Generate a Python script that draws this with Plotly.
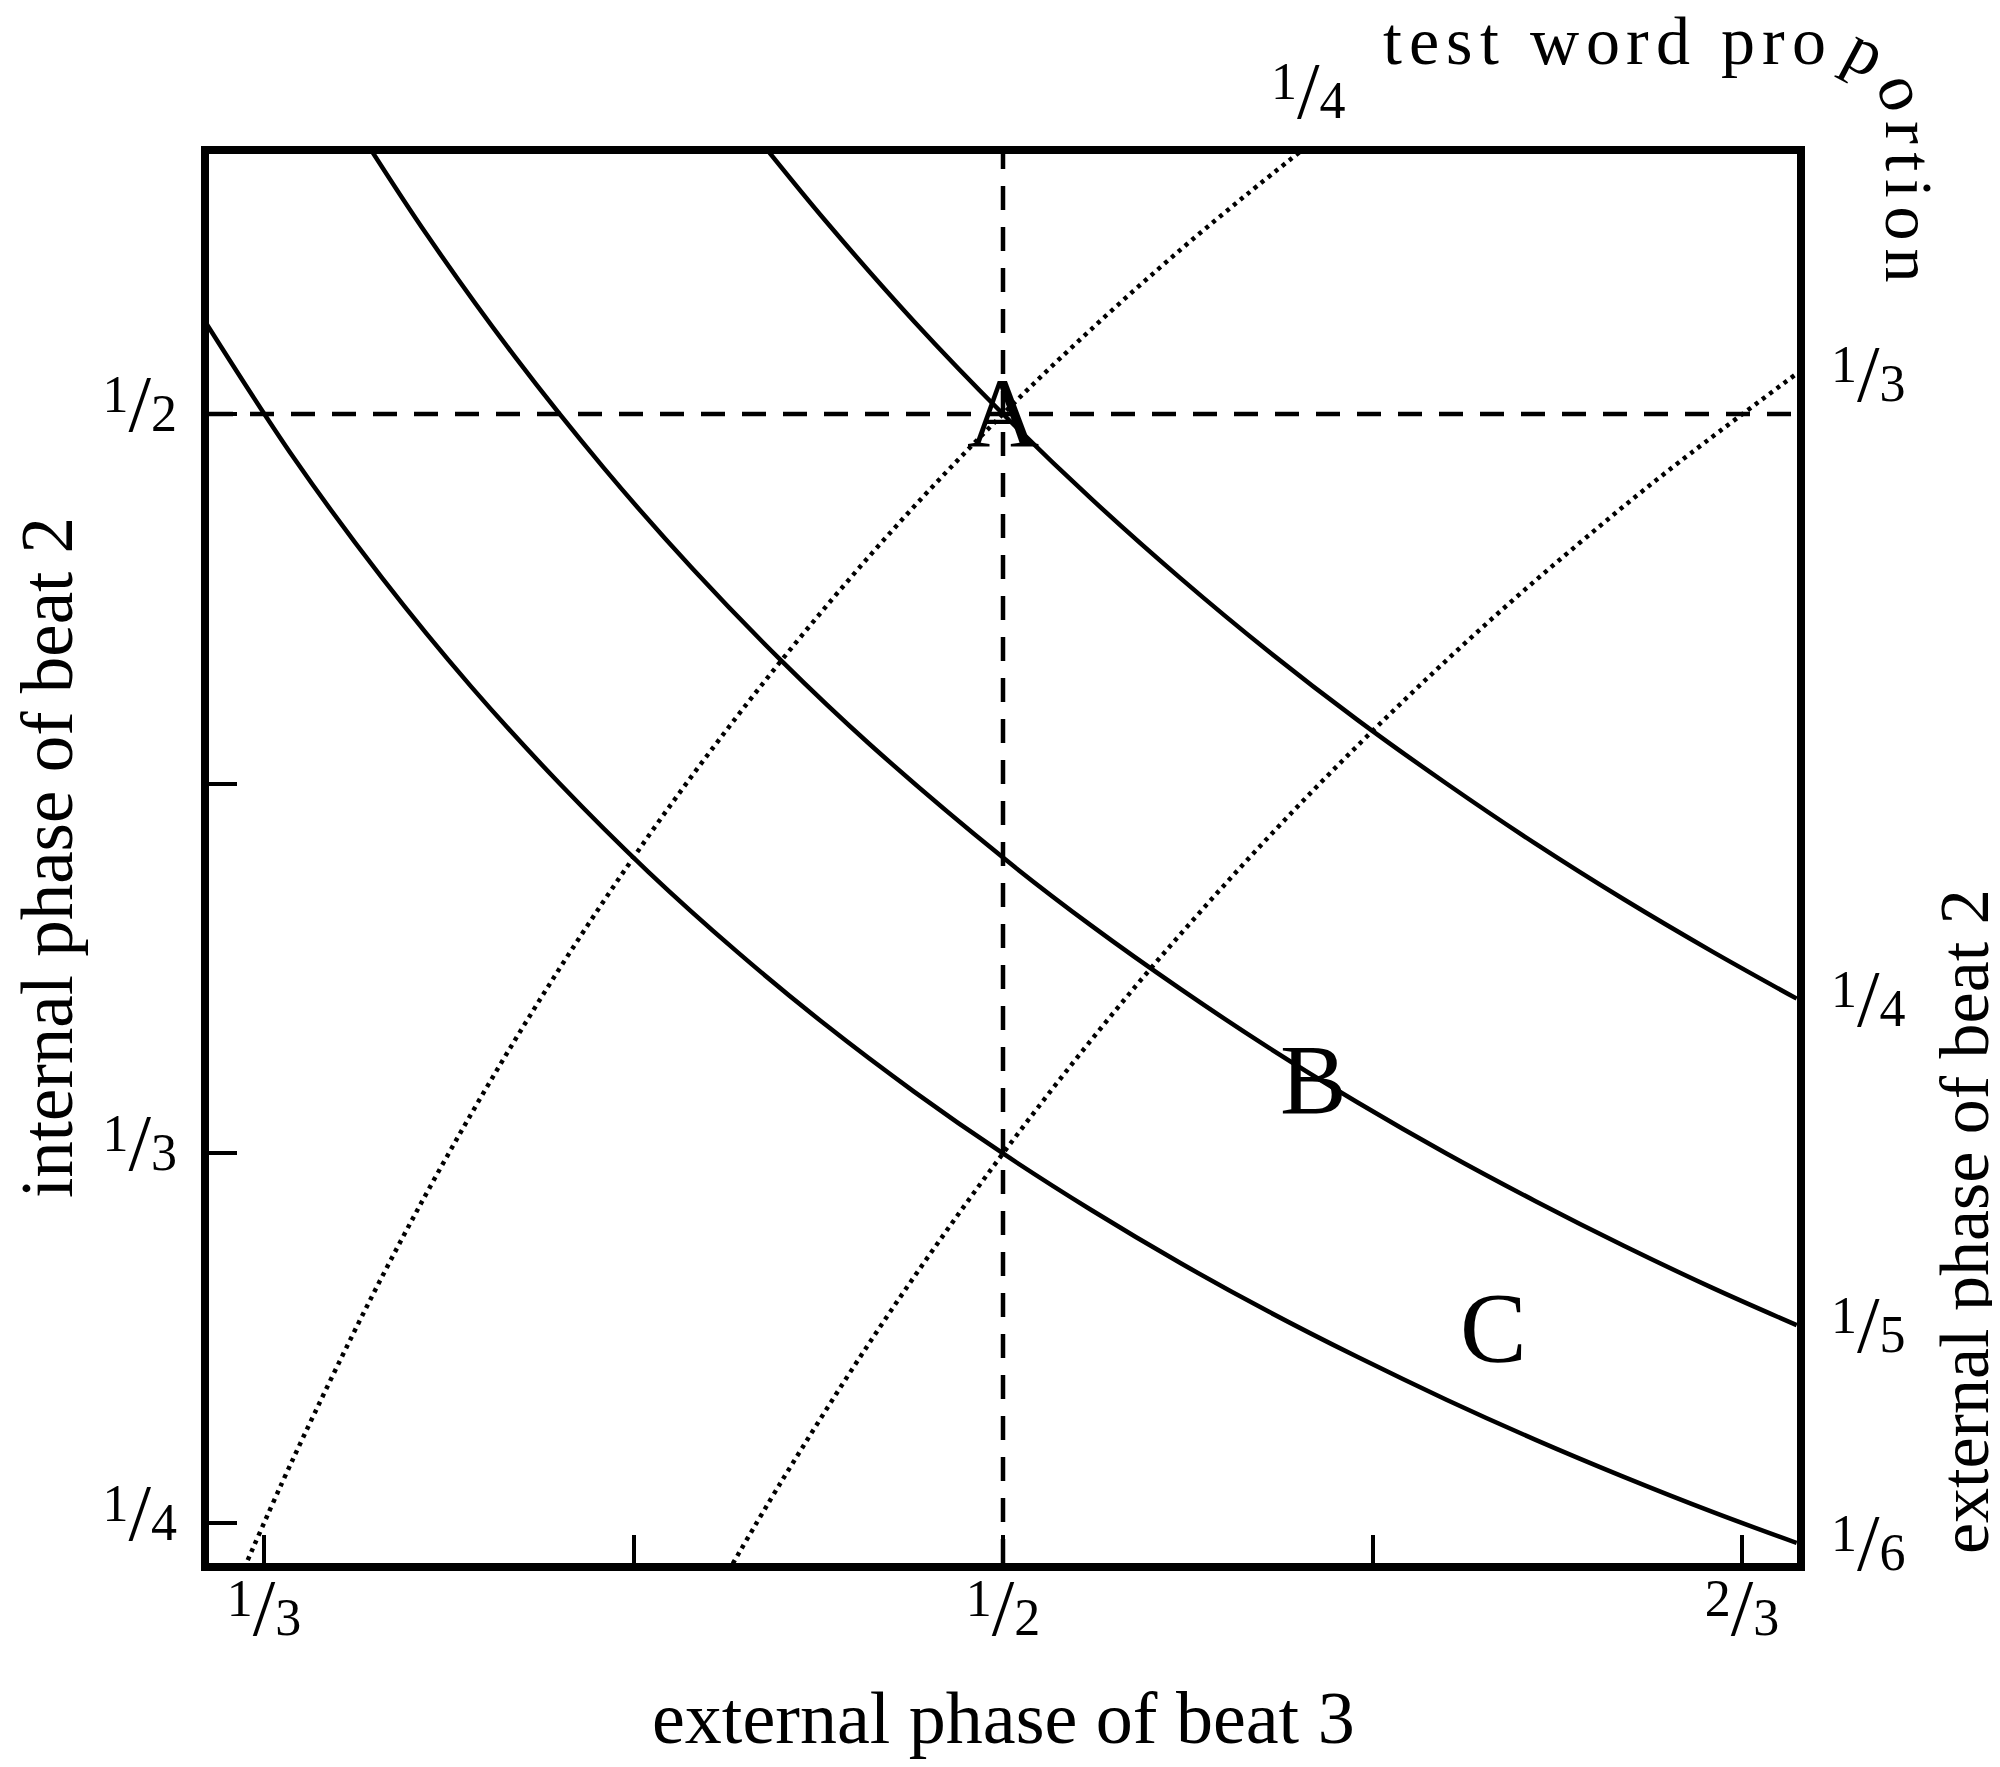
import math

import plotly.graph_objects as go

# ---- data ---------------------------------------------------------------
# solid curves: lines of equal external phase of beat 2
BEAT2_LABELS = ["1/6", "1/5", "1/4"]
BEAT2_X = [
    [0.318, 0.34, 0.36, 0.38, 0.40, 0.42, 0.44, 0.46, 0.48, 0.50, 0.52,
     0.54, 0.56, 0.58, 0.60, 0.62, 0.64, 0.66, 0.679],
    [0.355, 0.37, 0.39, 0.41, 0.43, 0.45, 0.47, 0.50, 0.52, 0.54, 0.56,
     0.58, 0.60, 0.62, 0.64, 0.66, 0.679],
    [0.445, 0.46, 0.48, 0.50, 0.52, 0.54, 0.56, 0.58, 0.60, 0.62, 0.64,
     0.66, 0.679],
]
BEAT2_Y = [
    [0.5241, 0.4902, 0.4630, 0.4386, 0.4167, 0.3968, 0.3788, 0.3623, 0.3472,
     0.3333, 0.3205, 0.3086, 0.2976, 0.2874, 0.2778, 0.2688, 0.2604, 0.2525,
     0.2455],
    [0.5634, 0.5405, 0.5128, 0.4878, 0.4651, 0.4444, 0.4255, 0.4000, 0.3846,
     0.3704, 0.3571, 0.3448, 0.3333, 0.3226, 0.3125, 0.3030, 0.2946],
    [0.5618, 0.5435, 0.5208, 0.5000, 0.4808, 0.4630, 0.4464, 0.4310, 0.4167,
     0.4032, 0.3906, 0.3788, 0.3682],
]

# dotted curves: lines of equal test word proportion
PROP_LABELS = ["1/4", "1/3"]
PROP_X = [
    [0.328, 0.34, 0.36, 0.38, 0.40, 0.42, 0.44, 0.46, 0.48, 0.50, 0.52,
     0.54, 0.555, 0.568],
    [0.438, 0.45, 0.47, 0.49, 0.51, 0.53, 0.55, 0.57, 0.59, 0.61, 0.63,
     0.65, 0.679],
]
PROP_Y = [
    [0.2378, 0.2647, 0.3056, 0.3421, 0.3750, 0.4048, 0.4318, 0.4565, 0.4792,
     0.5000, 0.5192, 0.5370, 0.5495, 0.5599],
    [0.2390, 0.2593, 0.2908, 0.3197, 0.3464, 0.3711, 0.3939, 0.4152, 0.4350,
     0.4536, 0.4709, 0.4872, 0.5091],
]

# dashed reference lines
REF_X = 0.5
REF_Y = 0.5

# point labels
POINT_TEXT = ["A", "B", "C"]
POINT_X = [0.5, 0.5701, 0.6107]
POINT_Y = [0.5, 0.3499, 0.2940]

X_TICKS = [1 / 3, 5 / 12, 1 / 2, 7 / 12, 2 / 3]
X_TICK_LABELS = ["1/3", "", "1/2", "", "2/3"]
Y_TICKS = [1 / 4, 1 / 3, 5 / 12, 1 / 2]
Y_TICK_LABELS = ["1/4", "1/3", "", "1/2"]

X_RANGE = [0.32093, 0.67907]
Y_RANGE = [0.24098, 0.55861]

# ---- styling -------------------------------------------------------------
FONT = "Liberation Serif"
W, H = 2000, 1767
BODY = 8                      # default page margin round the plot div
ML, MR, MT, MB = 201, 211, 146, 212
PW, PH = W - ML - MR, H - MT - MB


def frac(label):
    """Render 'n/d' as a small slanted fraction"""
    if not label:
        return ""
    n, d = label.split("/")
    return ("<sup><span style='font-size:52px'>%s</span></sup>"
            "<sub><span style='font-size:81px'>/</span></sub>"
            "<sub><span style='font-size:52px'>%s</span></sub>" % (n, d))


def paper(px, py):
    """pixel position on the page -> paper coordinates"""
    return (px - BODY - ML) / PW, (H - MB - (py - BODY)) / PH


def text_at(x, y, text, size, angle=0, data=False, **kw):
    opts = dict(x=x, y=y, text=text, showarrow=False, textangle=angle,
                xref="x" if data else "paper", yref="y" if data else "paper",
                xanchor="center", yanchor="middle", borderpad=0,
                font=dict(family=FONT, size=size, color="black"))
    opts.update(kw)
    return opts


fig = go.Figure()

for xs, ys in zip(BEAT2_X, BEAT2_Y):
    fig.add_trace(go.Scatter(x=xs, y=ys, mode="lines", line_shape="spline",
                             line=dict(color="black", width=4.5),
                             hoverinfo="skip", showlegend=False))

for xs, ys in zip(PROP_X, PROP_Y):
    fig.add_trace(go.Scatter(x=xs, y=ys, mode="lines", line_shape="spline",
                             line=dict(color="black", width=4.5, dash="4px,5px"),
                             hoverinfo="skip", showlegend=False))

fig.add_vline(x=REF_X, line=dict(color="black", width=4.5, dash="24px,17px"))
fig.add_hline(y=REF_Y, line=dict(color="black", width=4.5, dash="24px,17px"))

annotations = []

for t, x, y in zip(POINT_TEXT, POINT_X, POINT_Y):
    annotations.append(text_at(x, y, t, 100, data=True))

# right-hand labels at the ends of the solid curves
for lab, xs, ys in zip(BEAT2_LABELS, BEAT2_X, BEAT2_Y):
    annotations.append(text_at(xs[-1], ys[-1], frac(lab), 30, data=True,
                               xanchor="left", xshift=33))

# proportion labels where the dotted curves leave the frame
annotations.append(text_at(PROP_X[0][-1], Y_RANGE[1], frac(PROP_LABELS[0]), 30,
                           data=True, yanchor="bottom", yshift=17, xshift=4))
annotations.append(text_at(PROP_X[1][-1], PROP_Y[1][-1], frac(PROP_LABELS[1]), 30,
                           data=True, xanchor="left", xshift=33))

# axis titles
annotations.append(text_at(*paper(1003, 1718), "external phase of beat 3", 74))
annotations.append(text_at(*paper(47, 858), "internal phase of beat 2", 73, -90))
annotations.append(text_at(*paper(1964, 1222), "external phase of beat 2", 70, -90))

# "test word proportion" bent round the top-right corner
ADV = {"t": .278, "e": .444, "s": .389, " ": .25, "w": .722, "o": .5,
       "r": .333, "d": .5, "p": .5, "i": .278, "n": .5}
FS, TRACK = 68, 7
MID = 0.3375 * FS          # baseline -> centre of the text box
corner_x, corner_y, radius = 1828, 122, 58

cur = 1383
for ch in "test word pro":
    w = ADV[ch] * FS
    if ch != " ":
        annotations.append(text_at(*paper(cur + w / 2, corner_y - radius - MID), ch, FS))
    cur += w + TRACK

for ch, ang in (("p", 28), ("o", 68)):
    r = radius + MID
    a = math.radians(ang)
    annotations.append(text_at(*paper(corner_x + r * math.sin(a),
                                      corner_y - r * math.cos(a)), ch, FS, ang))

cur = 122
for ch in "rtion":
    w = ADV[ch] * FS
    annotations.append(text_at(*paper(corner_x + radius + MID, cur + w / 2), ch, FS, 90))
    cur += w + TRACK + 1

axis_common = dict(showline=True, mirror=True, linecolor="black", linewidth=8,
                   showgrid=False, zeroline=False, ticks="inside", ticklen=28,
                   tickwidth=4, tickcolor="black",
                   tickfont=dict(family=FONT, size=30, color="black"))

fig.update_xaxes(range=X_RANGE, tickvals=X_TICKS, ticklabelstandoff=22,
                 ticktext=[frac(t) for t in X_TICK_LABELS], **axis_common)
fig.update_yaxes(range=Y_RANGE, tickvals=Y_TICKS, ticklabelstandoff=18,
                 ticktext=[frac(t) for t in Y_TICK_LABELS], **axis_common)

fig.update_layout(width=W, height=H, margin=dict(l=ML, r=MR, t=MT, b=MB),
                  paper_bgcolor="white", plot_bgcolor="white",
                  annotations=annotations, showlegend=False)

fig.write_html("out.html")
